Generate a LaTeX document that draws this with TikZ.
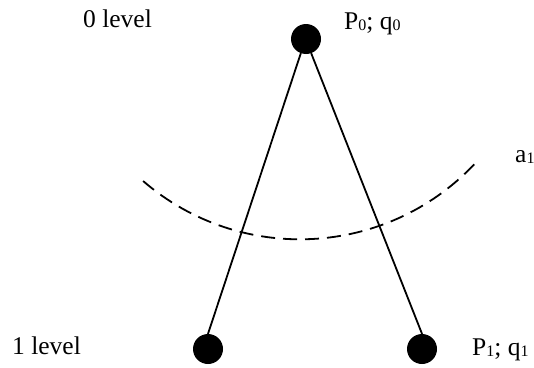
\documentclass[tikz,border=0pt]{standalone}
\usepackage{fontspec}
\setmainfont{Liberation Serif}
\newcommand\subsc[1]{\raisebox{-0.12ex}{\fontsize{16}{16}\selectfont #1}}
\begin{document}
\begin{tikzpicture}[x=1pt,y=-1pt,
  dot/.style={circle,fill=black,draw=none,minimum size=30pt,inner sep=0pt},
  link/.style={line width=1.8pt,line cap=round},
  arcline/.style={line width=1.8pt,dash pattern=on 14pt off 8pt},
  lbl/.style={anchor=base west,inner sep=0pt,font=\fontsize{25.5}{30}\selectfont}]
\useasboundingbox (0,0) rectangle (534,367);
\node[dot] (top) at (306,39) {};
\node[dot] (bl) at (208,349) {};
\node[dot] (br) at (422,349) {};
\draw[link] (top.250) -- (bl.north);
\draw[link] (top.290) -- (br.north);
\coordinate (arcstart) at (143.1,181);
\draw[arcline] (arcstart) arc[start angle=130.8, end angle=43.3, radius=240];
\node[lbl] (l0) at (83,27) {0 level};
\node[lbl] (p0) at (344,29) {P\subsc{0}; q\subsc{0}};
\node[lbl] (a1) at (515,162) {a\subsc{1}};
\node[lbl] (l1) at (12,354) {1 level};
\node[lbl] (p1) at (472,355) {P\subsc{1}; q\subsc{1}};
\end{tikzpicture}
\end{document}
